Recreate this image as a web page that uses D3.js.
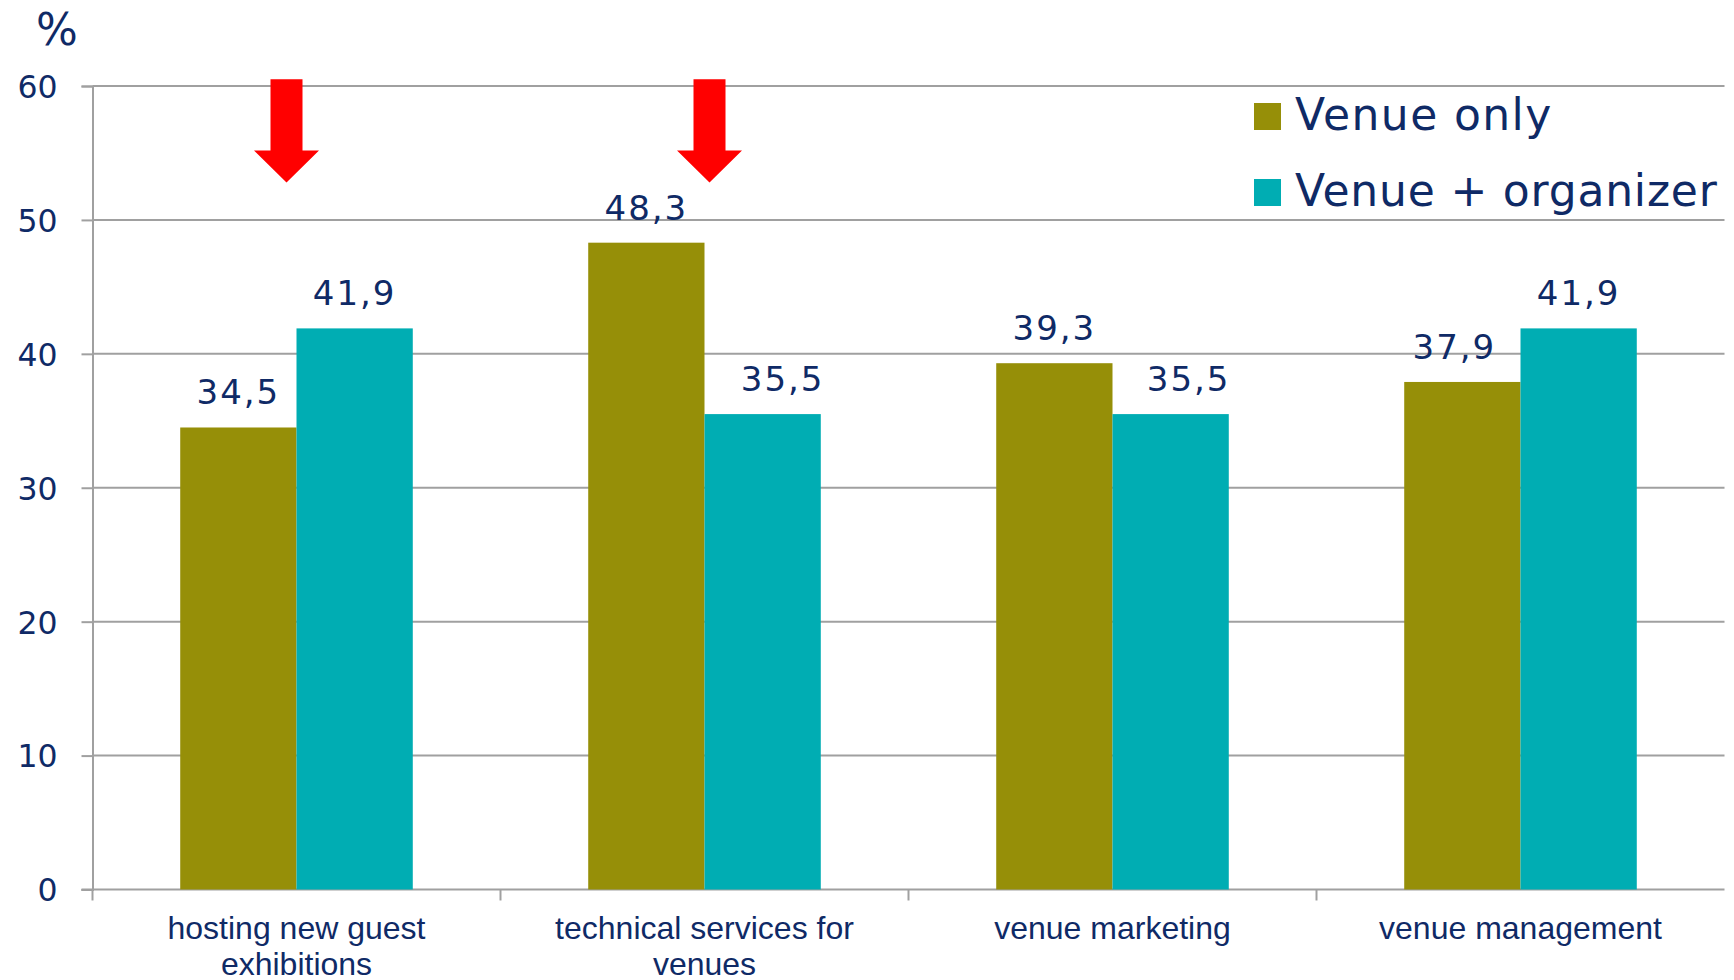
<!DOCTYPE html>
<html>
<head>
<meta charset="utf-8">
<script src="https://cdn.jsdelivr.net/npm/d3@7"></script>
<style>
  body { margin: 0; background: #fff; }
  svg { display: block; }
</style>
</head>
<body>
<script>
var categories = [["hosting new guest", "exhibitions"], ["technical services for", "venues"], ["venue marketing"], ["venue management"]];
var seriesNames = ["Venue only", "Venue + organizer"];
var venueOnly = [34.5, 48.3, 39.3, 37.9];
var venueOrganizer = [41.9, 35.5, 35.5, 41.9];
var yTicks = [0, 10, 20, 30, 40, 50, 60];
// red arrows: category index, small horizontal nudge, top / tip in chart units
var arrows = [{cat: 0, dx: -10, top: 60.5, tip: 52.8}, {cat: 1, dx: 5, top: 60.5, tip: 52.8}];
// value labels that the original chart shifted sideways (px), per series
var labelNudge = [[0, 0, 0, -8], [0, 20, 18, 0]];

var colors = ["#968f08", "#00adb3"];
var navy = "#0f2a66";
var grey = "#a0a0a0";

var width = 1734, height = 980;
var margin = {top: 86, bottom: 90.5, left: 92.5, right: 10};

var svg = d3.select("body").append("svg")
  .attr("width", width)
  .attr("height", height);

var x0 = d3.scaleBand()
  .domain(d3.range(categories.length))
  .range([margin.left, margin.left + 408 * 4])
  .paddingInner(0.43)
  .paddingOuter(0.215);

var x1 = d3.scaleBand()
  .domain([0, 1])
  .range([0, x0.bandwidth()]);

var y = d3.scaleLinear()
  .domain([0, 60])
  .range([height - margin.bottom, margin.top]);

var right = margin.left + 408 * 4;

// gridlines
svg.append("g").selectAll("line")
  .data(yTicks.filter(function(d) { return d > 0; }))
  .enter().append("line")
  .attr("x1", margin.left).attr("x2", right)
  .attr("y1", function(d) { return y(d); })
  .attr("y2", function(d) { return y(d); })
  .attr("stroke", grey).attr("stroke-width", 2);

// y axis
var yAxis = svg.append("g")
  .attr("transform", "translate(" + margin.left + ",0)")
  .call(d3.axisLeft(y).tickValues(yTicks).tickSize(11).tickPadding(24));
yAxis.select(".domain").attr("stroke", grey).attr("stroke-width", 2);
yAxis.selectAll(".tick line").attr("stroke", grey).attr("stroke-width", 2);
yAxis.selectAll(".tick text")
  .attr("fill", navy)
  .style("font-family", "DejaVu Sans")
  .style("font-size", "31.5px")
  .attr("dy", "0.36em");

// x axis baseline + boundary ticks
svg.append("line")
  .attr("x1", margin.left - 11).attr("x2", right)
  .attr("y1", y(0)).attr("y2", y(0))
  .attr("stroke", grey).attr("stroke-width", 2);
svg.append("g").selectAll("line")
  .data(d3.range(categories.length))
  .enter().append("line")
  .attr("x1", function(d) { return margin.left + x0.step() * d; })
  .attr("x2", function(d) { return margin.left + x0.step() * d; })
  .attr("y1", y(0)).attr("y2", y(0) + 11)
  .attr("stroke", grey).attr("stroke-width", 2);

// bars
var series = [venueOnly, venueOrganizer];
var groups = svg.append("g").selectAll("g")
  .data(d3.range(categories.length))
  .enter().append("g")
  .attr("transform", function(i) { return "translate(" + x0(i) + ",0)"; });

groups.selectAll("rect")
  .data(function(i) { return series.map(function(s, k) { return {k: k, i: i, v: s[i]}; }); })
  .enter().append("rect")
  .attr("x", function(d) { return x1(d.k); })
  .attr("width", x1.bandwidth())
  .attr("y", function(d) { return y(d.v); })
  .attr("height", function(d) { return y(0) - y(d.v); })
  .attr("fill", function(d) { return colors[d.k]; });

groups.selectAll("text")
  .data(function(i) { return series.map(function(s, k) { return {k: k, i: i, v: s[i]}; }); })
  .enter().append("text")
  .attr("x", function(d) { return x1(d.k) + x1.bandwidth() / 2 + labelNudge[d.k][d.i]; })
  .attr("y", function(d) { return y(d.v) - 23; })
  .attr("text-anchor", "middle")
  .attr("fill", navy)
  .style("font-family", "DejaVu Sans")
  .style("font-size", "34px")
  .style("letter-spacing", "2px")
  .text(function(d) { return d.v.toFixed(1).replace(".", ","); });

// category labels
svg.append("g").selectAll("text")
  .data(categories)
  .enter().append("text")
  .attr("text-anchor", "middle")
  .attr("fill", navy)
  .style("font-family", "Liberation Sans, Arial")
  .style("font-size", "32px")
  .each(function(lines, i) {
    var t = d3.select(this);
    lines.forEach(function(l, j) {
      t.append("tspan")
        .attr("x", x0(i) + x0.bandwidth() / 2)
        .attr("y", y(0) + 49 + j * 36)
        .text(l);
    });
  });

// % unit
svg.append("text")
  .attr("x", 36).attr("y", 45)
  .attr("fill", navy)
  .style("font-family", "DejaVu Sans")
  .style("font-size", "44px")
  .text("%");

// arrows
svg.append("g").selectAll("path")
  .data(arrows)
  .enter().append("path")
  .attr("fill", "#ff0000")
  .attr("d", function(a) {
    var cx = x0(a.cat) + x0.bandwidth() / 2 + a.dx;
    var top = y(a.top), tip = y(a.tip), neck = tip - 32;
    return "M" + (cx - 16) + "," + top + "H" + (cx + 16) + "V" + neck +
      "H" + (cx + 32.5) + "L" + cx + "," + tip + "L" + (cx - 32.5) + "," + neck +
      "H" + (cx - 16) + "Z";
  });

// legend
var legend = svg.append("g").selectAll("g")
  .data(seriesNames)
  .enter().append("g")
  .attr("transform", function(d, i) { return "translate(1254," + (130 + i * 76) + ")"; });
legend.append("rect")
  .attr("x", 0).attr("y", -27)
  .attr("width", 27).attr("height", 27)
  .attr("fill", function(d, i) { return colors[i]; });
legend.append("text")
  .attr("x", 41).attr("y", 0)
  .attr("fill", navy)
  .style("font-family", "DejaVu Sans")
  .style("font-size", "44px")
  .style("letter-spacing", function(d, i) { return i === 0 ? "1.4px" : "0.8px"; })
  .text(function(d) { return d; });
</script>
</body>
</html>
